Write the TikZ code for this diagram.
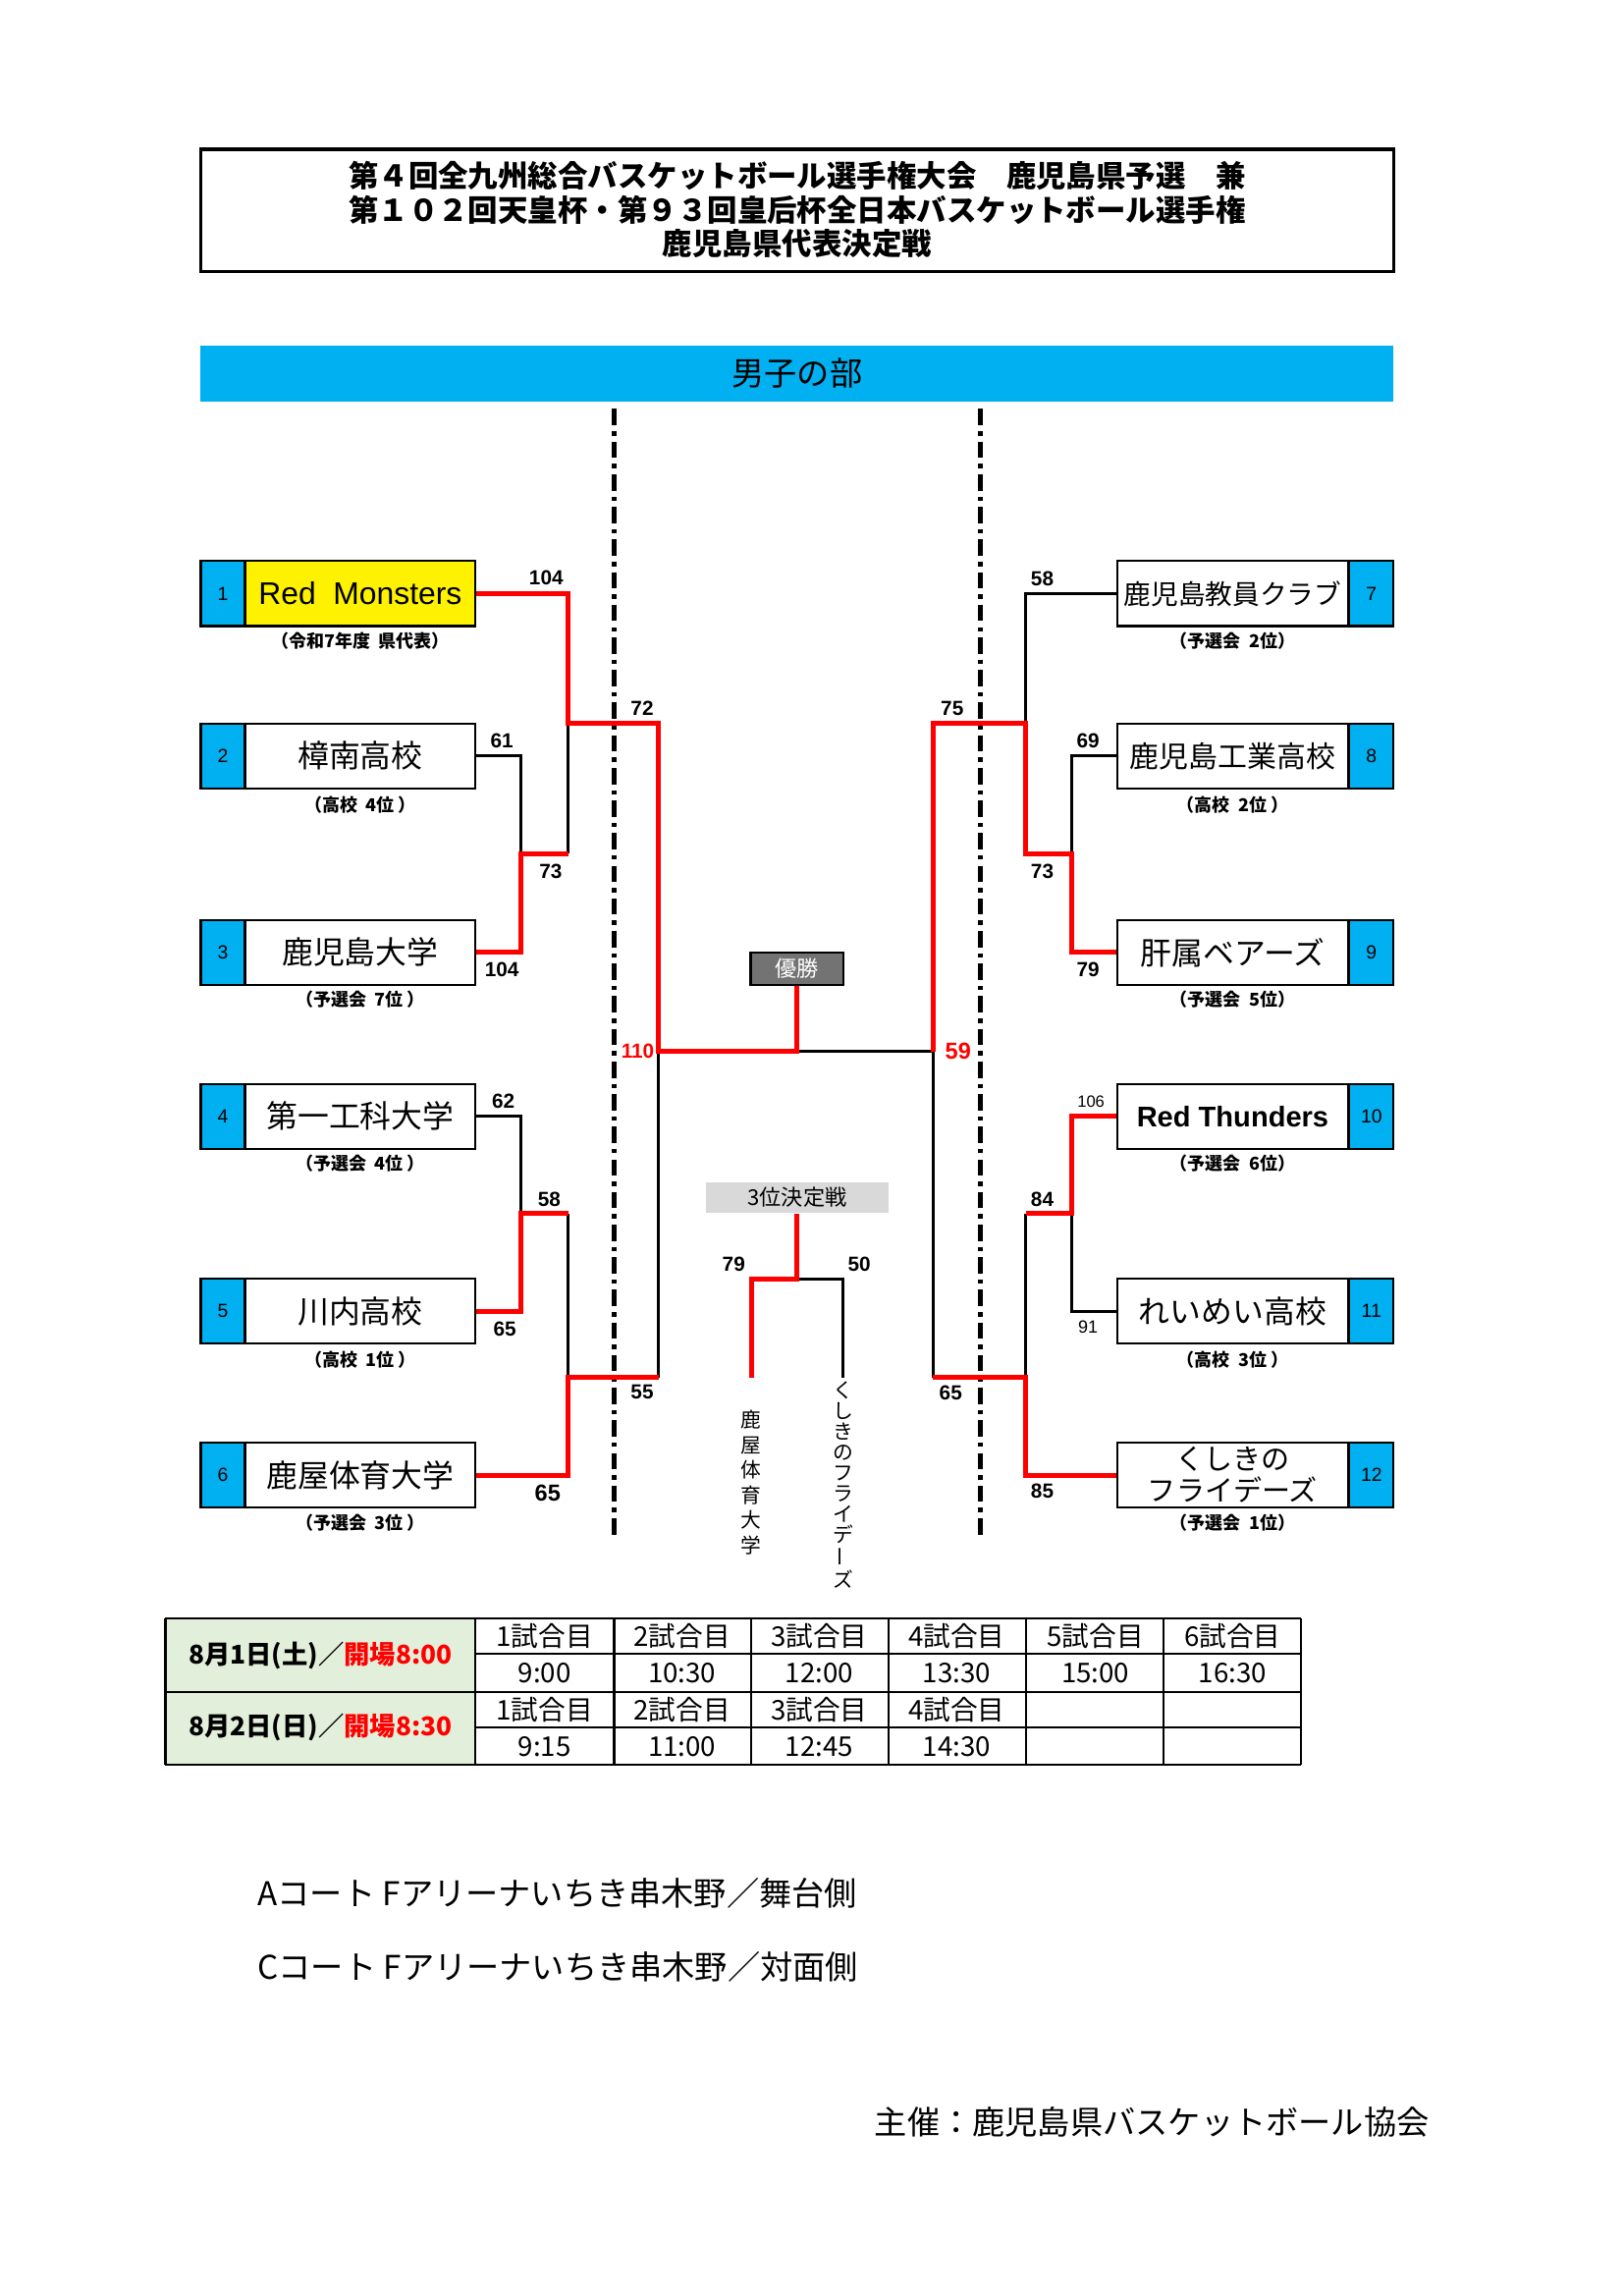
\documentclass[tikz,border=0pt]{standalone}
\usepackage{fontspec}
\setmainfont{Noto Sans CJK JP}
\newfontfamily\arial{Liberation Sans}
\usetikzlibrary{positioning}
\definecolor{skyblue}{RGB}{0,176,240}
\definecolor{paleg}{RGB}{226,239,218}
\begin{document}
\begin{tikzpicture}[x=0.019091cm,y=-0.019091cm]

% unit of one reference pixel
\def\u{0.019091cm}
% node styles
\tikzstyle{team} = [draw, thick, rectangle, fill=white,
	minimum height=44*\u, minimum width=156*\u, inner sep=0pt,
	font=\fontsize{11.5}{12}\selectfont];
\tikzstyle{num} = [draw, thick, rectangle, fill=skyblue,
	minimum height=44*\u, minimum width=30*\u, inner sep=0pt,
	font=\arial\fontsize{7}{8}\selectfont];
\tikzstyle{sub} = [font=\bfseries\fontsize{6.5}{7}\selectfont];
\tikzstyle{score} = [font=\arial\bfseries\fontsize{7.5}{8}\selectfont, inner sep=1pt];
\tikzstyle{lose} = [draw=black, line width=1.1pt];
\tikzstyle{win} = [draw=red, line width=1.8pt];
\tikzstyle{cell} = [font=\fontsize{10}{11}\selectfont, inner sep=0pt];
\tikzstyle{court} = [line width=1.6pt, dash pattern=on 6pt off 2.2pt on 1.6pt off 2.2pt];

\useasboundingbox (0,0) rectangle (1100,1555);

% title
\draw[line width=1.3pt] (136,101) rectangle (944,184);
\node[font=\bfseries\fontsize{11}{12.6}\selectfont, align=center] (title) at (540,142)
	{第４回全九州総合バスケットボール選手権大会　鹿児島県予選　兼\\
	 第１０２回天皇杯・第９３回皇后杯全日本バスケットボール選手権\\
	 鹿児島県代表決定戦};
\node[fill=skyblue, minimum width=808*\u, minimum height=38*\u,
	font=\fontsize{12}{13}\selectfont] (bar) at (540,253) {男子の部};

% court dividers
\draw[court] (416,277) -- (416,1040);
\draw[court] (664,277) -- (664,1040);

% left teams
\node[team, fill=yellow] (t1) at (244,402) {\arial Red\ \ Monsters};
\node[team] (t2) at (244,512) {樟南高校};
\node[team] (t3) at (244,645) {鹿児島大学};
\node[team] (t4) at (244,756) {第一工科大学};
\node[team] (t5) at (244,888) {川内高校};
\node[team] (t6) at (244,999) {鹿屋体育大学};
\foreach \i/\y in {1/402,2/512,3/645,4/756,5/888,6/999}
	\node[num] (n\i) at (151,\y) {\i};
\node[sub] (s1) at (244,434) {（令和7年度\ \ 県代表）};
\node[sub] (s2) at (244,545) {（高校\ \ 4位 ）};
\node[sub] (s3) at (244,677) {（予選会\ \ 7位 ）};
\node[sub] (s4) at (244,788) {（予選会\ \ 4位 ）};
\node[sub] (s5) at (244,921) {（高校\ \ 1位 ）};
\node[sub] (s6) at (244,1031) {（予選会\ \ 3位 ）};

% right teams
\node[team, font=\fontsize{10}{11}\selectfont] (t7) at (835,402) {鹿児島教員クラブ};
\node[team, font=\fontsize{10.8}{11}\selectfont] (t8) at (835,512) {鹿児島工業高校};
\node[team] (t9) at (835,645) {肝属ベアーズ};
\node[team, font=\arial\bfseries\fontsize{10.5}{11}\selectfont] (t10) at (835,756) {Red Thunders};
\node[team] (t11) at (835,888) {れいめい高校};
\node[team, align=center, font=\fontsize{10.5}{11.5}\selectfont] (t12) at (835,999) {くしきの\\フライデーズ};
\foreach \i/\y in {7/402,8/512,9/645,10/756,11/888,12/999}
	\node[num] (n\i) at (929,\y) {\i};
\node[sub] (s7) at (835,434) {（予選会\ \ 2位）};
\node[sub] (s8) at (835,545) {（高校\ \ 2位 ）};
\node[sub] (s9) at (835,677) {（予選会\ \ 5位）};
\node[sub] (s10) at (835,788) {（予選会\ \ 6位）};
\node[sub] (s11) at (835,921) {（高校\ \ 3位 ）};
\node[sub] (s12) at (835,1031) {（予選会\ \ 1位）};

% centre boxes
\node[draw, thick, fill=black!55, text=white, minimum width=63*\u, minimum height=22*\u,
	inner sep=0pt, font=\fontsize{8}{9}\selectfont] (champ) at (540,656) {優勝};
\node[fill=black!15, minimum width=124*\u, minimum height=21*\u,
	inner sep=0pt, font=\fontsize{8}{9}\selectfont] (third) at (540,811) {3位決定戦};

% junctions
\coordinate (L23) at (353,578); \coordinate (M1) at (385,578);
\coordinate (L1A) at (385,490); \coordinate (LT) at (446,490);
\coordinate (L45) at (353,822); \coordinate (M3) at (385,822);
\coordinate (LB) at (385,933); \coordinate (LB2) at (446,933);
\coordinate (LF) at (446,712); \coordinate (W) at (540,712);
\coordinate (RF) at (632,712); \coordinate (RT) at (632,490);
\coordinate (R1A) at (695,490); \coordinate (M2) at (695,578);
\coordinate (R89) at (726,578);
\coordinate (R1011) at (726,822); \coordinate (M4) at (695,822);
\coordinate (RB) at (695,933); \coordinate (RB2) at (632,933);
\coordinate (T) at (540,866); \coordinate (T1) at (509,866);
\coordinate (T1b) at (509,933); \coordinate (T2) at (571,866);
\coordinate (T2b) at (571,933);

% losing paths
\draw[lose] (t2.east) -| (L23);
\draw[lose] (M1) -- (L1A);
\draw[lose] (t4.east) -| (L45);
\draw[lose] (M3) -- (LB);
\draw[lose] (LB2) -- (LF);
\draw[lose] (W) -- (RF);
\draw[lose] (RF) -- (RB2);
\draw[lose] (t7.west) -| (R1A);
\draw[lose] (t8.west) -| (R89);
\draw[lose] (t11.west) -| (R1011);
\draw[lose] (M4) -- (RB);
\draw[lose] (T) -- (T2) -- (T2b);

% winning paths
\draw[win] (t3.east) -| (L23) -- (M1);
\draw[win] (t1.east) -| (L1A) -- (LT) -- (LF) -- (W) -- (champ.south);
\draw[win] (t5.east) -| (L45) -- (M3);
\draw[win] (t6.east) -| (LB) -- (LB2);
\draw[win] (t9.west) -| (R89) -- (M2) -- (R1A) -- (RT) -- (RF);
\draw[win] (t10.west) -| (R1011) -- (M4);
\draw[win] (t12.west) -| (RB) -- (RB2);
\draw[win] (third.south) -- (T) -- (T1) -- (T1b);

% scores
\node[score] (a1) at (370,391) {104};
\node[score] (a2) at (340,502) {61};
\node[score] (a3) at (340,657) {104};
\node[score] (a4) at (373,590) {73};
\node[score] (a5) at (435,480) {72};
\node[score] (a6) at (341,746) {62};
\node[score] (a7) at (342,900) {65};
\node[score] (a8) at (372,812) {58};
\node[score, font=\arial\bfseries\fontsize{8.5}{9}\selectfont] (a9) at (371,1011) {65};
\node[score] (a10) at (435,943) {55};
\node[score, text=red] (a11) at (432,712) {110};
\node[score, text=red, font=\arial\bfseries\fontsize{8.5}{9}\selectfont] (a12) at (649,712) {59};
\node[score] (a13) at (645,480) {75};
\node[score] (a14) at (644,943) {65};
\node[score] (a15) at (706,392) {58};
\node[score] (a16) at (737,502) {69};
\node[score] (a17) at (737,657) {79};
\node[score] (a18) at (706,590) {73};
\node[score, font=\arial\fontsize{6}{7}\selectfont] (a19) at (739,746) {106};
\node[score] (a20) at (706,812) {84};
\node[score, font=\arial\fontsize{6.5}{7}\selectfont] (a21) at (737,899) {91};
\node[score] (a22) at (706,1010) {85};
\node[score] (a23) at (497,856) {79};
\node[score] (a24) at (582,856) {50};

% third place names
\node[anchor=north, inner sep=0pt, align=center, font=\fontsize{7.5}{9.2}\selectfont] (v1) at (509,955)
	{鹿\\屋\\体\\育\\大\\学};
\node[anchor=north, inner sep=0pt, align=center, font=\fontsize{7.5}{7.6}\selectfont] (v2) at (571,935)
	{く\\し\\き\\の\\フ\\ラ\\イ\\デ\\\rotatebox{90}{ー}\\ズ};

% schedule table
\fill[paleg] (112,1096) rectangle (322,1195);
\foreach \y in {1096,1146,1195} \draw[line width=0.9pt] (112,\y) -- (881,\y);
\foreach \y in {1120,1170} \draw[thick] (322,\y) -- (881,\y);
\foreach \x in {112,322,416,509,602,695,788,881} \draw[thick] (\x,1096) -- (\x,1195);
\node[cell, font=\bfseries\fontsize{9.5}{11}\selectfont] (d1) at (217,1121)
	{8月1日(土)／\textcolor{red}{開場8:00}};
\node[cell, font=\bfseries\fontsize{9.5}{11}\selectfont] (d2) at (217,1170)
	{8月2日(日)／\textcolor{red}{開場8:30}};
\foreach \i/\x/\t in {1/369/9:00,2/462/10:30,3/555/12:00,4/648/13:30,5/742/15:00,6/835/16:30} {
	\node[cell] (g\i) at (\x,1108) {\i 試合目};
	\node[cell] (h\i) at (\x,1133) {\t};
}
\foreach \i/\x/\t in {1/369/9:15,2/462/11:00,3/555/12:45,4/648/14:30} {
	\node[cell] (p\i) at (\x,1158) {\i 試合目};
	\node[cell] (q\i) at (\x,1183) {\t};
}

% courts and host
\node[anchor=west, font=\fontsize{12}{13}\selectfont] (ca) at (168,1282) {Aコート Fアリーナいちき串木野／舞台側};
\node[anchor=west, font=\fontsize{12}{13}\selectfont] (cc) at (168,1332) {Cコート Fアリーナいちき串木野／対面側};
\node[anchor=west, font=\fontsize{12}{13}\selectfont] (host) at (586,1437) {主催：鹿児島県バスケットボール協会};

\end{tikzpicture}
\end{document}
